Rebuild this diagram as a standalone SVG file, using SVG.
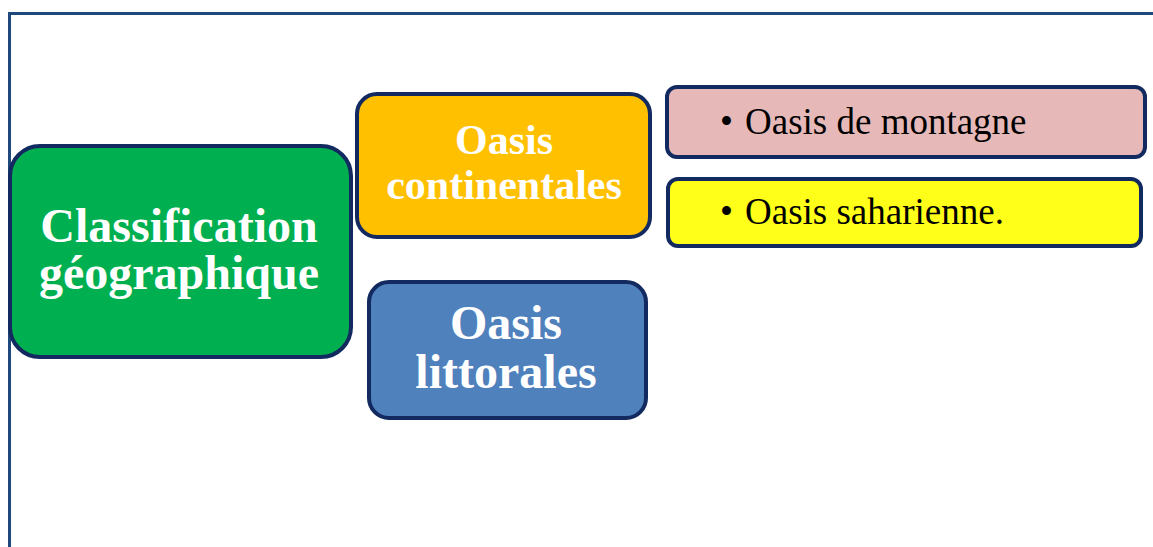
<svg xmlns="http://www.w3.org/2000/svg" width="1153" height="547" viewBox="0 0 1153 547">
<style>
.box{stroke:#122a60;stroke-width:4}
.hd{font-family:"Liberation Serif","Times New Roman",serif;font-weight:bold;fill:#ffffff;text-anchor:middle}
.bl{font-family:"Liberation Serif","Times New Roman",serif;fill:#000000;font-size:37px}
</style>
<rect width="1153" height="547" fill="#ffffff"/>
<path d="M9.5,548 V13.5 H1154" fill="none" stroke="#1f497d" stroke-width="3"/>
<g id="connectors"/>
<g id="node-classification">
<rect class="box" x="10" y="146" width="341" height="211" rx="30" fill="#00b050"/>
<text class="hd" font-size="48"><tspan x="179" y="242">Classification</tspan><tspan x="179" y="289">géographique</tspan></text>
</g>
<g id="node-continentales">
<rect class="box" x="357" y="94" width="293" height="143" rx="20" fill="#ffc000"/>
<text class="hd" font-size="42"><tspan x="504" y="154">Oasis</tspan><tspan x="504" y="199">continentales</tspan></text>
</g>
<g id="node-littorales">
<rect class="box" x="369" y="282" width="277" height="136" rx="20" fill="#4f81bd"/>
<text class="hd" font-size="48"><tspan x="506" y="339">Oasis</tspan><tspan x="506" y="388">littorales</tspan></text>
</g>
<g id="node-montagne">
<rect class="box" x="667" y="87" width="478" height="70" rx="10" fill="#e6b9b8"/>
<text class="bl" y="134"><tspan x="720">•</tspan><tspan x="745">Oasis de montagne</tspan></text>
</g>
<g id="node-saharienne">
<rect class="box" x="668" y="179" width="473" height="67" rx="10" fill="#ffff19"/>
<text class="bl" y="224"><tspan x="720">•</tspan><tspan x="745">Oasis saharienne.</tspan></text>
</g>
</svg>
